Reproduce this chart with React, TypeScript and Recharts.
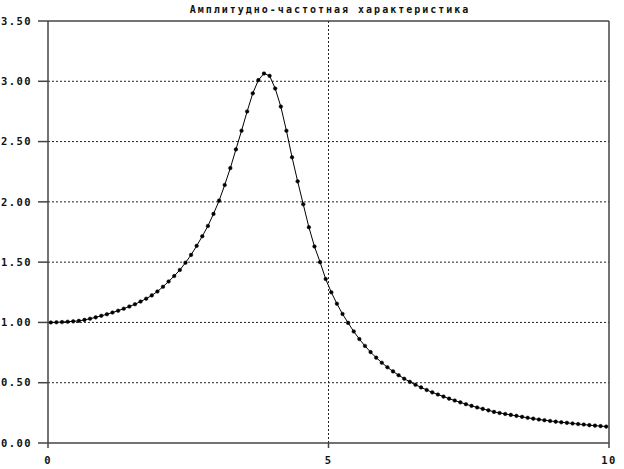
import { LineChart, Line, XAxis, YAxis, ReferenceLine } from "recharts";

const title = "Амплитудно-частотная характеристика";

const freq = [
  0.05, 0.15, 0.25, 0.35, 0.45, 0.55, 0.65, 0.75, 0.85, 0.95,
  1.05, 1.15, 1.25, 1.35, 1.45, 1.55, 1.65, 1.75, 1.85, 1.95,
  2.05, 2.15, 2.25, 2.35, 2.45, 2.55, 2.65, 2.75, 2.85, 2.95,
  3.05, 3.15, 3.25, 3.35, 3.45, 3.55, 3.65, 3.75, 3.85, 3.95,
  4.05, 4.15, 4.25, 4.35, 4.45, 4.55, 4.65, 4.75, 4.85, 4.95,
  5.05, 5.15, 5.25, 5.35, 5.45, 5.55, 5.65, 5.75, 5.85, 5.95,
  6.05, 6.15, 6.25, 6.35, 6.45, 6.55, 6.65, 6.75, 6.85, 6.95,
  7.05, 7.15, 7.25, 7.35, 7.45, 7.55, 7.65, 7.75, 7.85, 7.95,
  8.05, 8.15, 8.25, 8.35, 8.45, 8.55, 8.65, 8.75, 8.85, 8.95,
  9.05, 9.15, 9.25, 9.35, 9.45, 9.55, 9.65, 9.75, 9.85, 9.95,
];

const amplitude = [
  1.0, 1.001, 1.003, 1.006, 1.009, 1.013, 1.021, 1.031, 1.042, 1.055,
  1.068, 1.082, 1.097, 1.114, 1.132, 1.151, 1.173, 1.197, 1.224, 1.257,
  1.296, 1.34, 1.385, 1.435, 1.495, 1.56, 1.635, 1.715, 1.8, 1.9,
  2.01, 2.14, 2.28, 2.435, 2.59, 2.75, 2.9, 3.01, 3.065, 3.045,
  2.94, 2.79, 2.59, 2.37, 2.17, 1.98, 1.79, 1.63, 1.5, 1.36,
  1.25, 1.155, 1.07, 0.996, 0.925, 0.862, 0.805, 0.754, 0.708, 0.666,
  0.628, 0.594, 0.562, 0.533, 0.507, 0.483, 0.461, 0.44, 0.42, 0.402,
  0.385, 0.368, 0.352, 0.337, 0.322, 0.308, 0.295, 0.283, 0.271, 0.258,
  0.249, 0.241, 0.233, 0.225, 0.217, 0.209, 0.202, 0.195, 0.189, 0.183,
  0.177, 0.172, 0.167, 0.162, 0.157, 0.153, 0.148, 0.144, 0.14, 0.136,
];

const yTicks = [0, 0.5, 1, 1.5, 2, 2.5, 3, 3.5];
const xTicks = [0, 5, 10];
const gridY = [0.5, 1, 1.5, 2, 2.5, 3];
const gridX = [5];

const data = freq.map((x, i) => ({ x, y: amplitude[i] }));

const font = {
  fontFamily: "'DejaVu Sans Mono', monospace",
  fontWeight: "bold" as const,
  fontSize: 10.5,
  letterSpacing: 1.4,
  fill: "#111",
};

export default function App() {
  return (
    <div
      style={{
        position: "absolute",
        left: 0,
        top: 0,
        width: 624,
        height: 469,
        background: "#fff",
      }}
    >
      <div
        style={{
          position: "absolute",
          top: 4,
          left: 0,
          width: 660,
          textAlign: "center",
          ...font,
          fontSize: 10,
          letterSpacing: 2,
          color: "#111",
        }}
      >
        {title}
      </div>
      <LineChart
        width={624}
        height={469}
        data={data}
        margin={{ top: 21, right: 15, left: 0, bottom: 0 }}
      >
        {gridY.map((v) => (
          <ReferenceLine
            key={"gy" + v}
            y={v}
            stroke="#222"
            strokeDasharray="2 2"
          />
        ))}
        {gridX.map((v) => (
          <ReferenceLine
            key={"gx" + v}
            x={v}
            stroke="#222"
            strokeDasharray="2 2"
          />
        ))}
        <ReferenceLine y={3.5} stroke="#444" strokeWidth={1.5} />
        <ReferenceLine x={10} stroke="#444" strokeWidth={1.5} />
        <XAxis
          dataKey="x"
          type="number"
          domain={[0, 10]}
          ticks={xTicks}
          height={26}
          tickSize={5}
          tickMargin={9}
          stroke="#444"
          strokeWidth={1.5}
          tick={font}
          interval={0}
        />
        <YAxis
          type="number"
          domain={[0, 3.5]}
          ticks={yTicks}
          width={48}
          tickSize={10}
          tickMargin={6}
          stroke="#444"
          strokeWidth={1.5}
          tick={font}
          tickFormatter={(v: number) => v.toFixed(2)}
          interval={0}
        />
        <Line
          type="linear"
          dataKey="y"
          stroke="#000"
          strokeWidth={1}
          dot={{ r: 1.8, fill: "#000", stroke: "#000", strokeWidth: 0.5 }}
          isAnimationActive={false}
        />
      </LineChart>
    </div>
  );
}
